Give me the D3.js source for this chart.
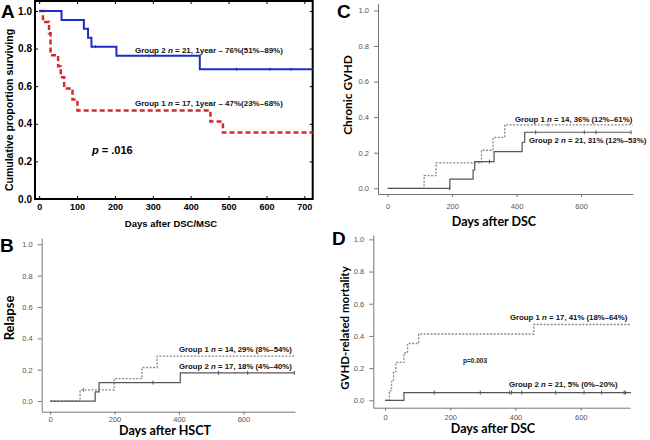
<!DOCTYPE html>
<html><head><meta charset="utf-8">
<script src="https://cdn.jsdelivr.net/npm/d3@7/dist/d3.min.js"></script>
<style>body{margin:0;background:#fff}svg{display:block}</style>
</head><body>
<script>
// ---------- Panel A : survival ----------
const aG2Days = [0, 59, 118, 129, 138, 204, 424, 722];
const aG2Vals = [1, 0.952, 0.905, 0.857, 0.810, 0.762, 0.690, 0.690];
const aG2Censor = [149, 290, 521, 609, 665];
const aG1Days = [0, 10, 26, 30, 50, 57, 66, 88, 101, 452, 485, 722];
const aG1Vals = [1, 0.941, 0.882, 0.765, 0.706, 0.647, 0.588, 0.529, 0.471, 0.412, 0.353, 0.353];
const aXTicks = [0, 100, 200, 300, 400, 500, 600, 700];
const aYTicks = [0, 0.2, 0.4, 0.6, 0.8, 1.0];
// ---------- Panel B : relapse ----------
const bG1Days = [0, 93, 199, 285, 332, 760];
const bG1Vals = [0, 0.071, 0.143, 0.214, 0.286, 0.286];
const bG1Censor = [104];
const bG2Days = [0, 140, 152, 404, 758];
const bG2Vals = [0, 0.059, 0.118, 0.18, 0.18];
const bG2Censor = [319, 523, 613, 758];
// ---------- Panel C : chronic GVHD ----------
const cG1Days = [0, 113, 150, 291, 327, 363, 760];
const cG1Vals = [0, 0.071, 0.143, 0.214, 0.286, 0.357, 0.357];
const cG1Censor = [497];
const cG2Days = [0, 193, 265, 270, 330, 417, 425, 755];
const cG2Vals = [0, 0.052, 0.103, 0.15, 0.206, 0.259, 0.315, 0.315];
const cG2Censor = [192, 316, 459, 610, 646, 755];
// ---------- Panel D : GVHD-related mortality ----------
const dG1Days = [0, 13, 20, 26, 33, 58, 69, 103, 456, 754];
const dG1Vals = [0, 0.059, 0.118, 0.176, 0.235, 0.294, 0.353, 0.412, 0.471, 0.471];
const dG2Days = [0, 58, 754];
const dG2Vals = [0, 0.048, 0.048];
const dG2Censor = [151, 292, 382, 388, 419, 523, 610, 664, 733, 737];
const rXTicks = [0, 200, 400, 600];
const rYTicks = [0, 0.2, 0.4, 0.6, 0.8, 1.0];

const svg = d3.select("body").append("svg").attr("width", 650).attr("height", 440);
const ARIAL = "'Liberation Sans', Arial, sans-serif";
const CAL = "Lato, 'Open Sans', sans-serif";

function valueAt(days, vals, t) {
  const i = Math.max(0, d3.bisectRight(days, t) - 1);
  return vals[i];
}
function step(g, x, y, days, vals, color, width, dash) {
  const line = d3.line().x(d => x(d[0])).y(d => y(d[1])).curve(d3.curveStepAfter);
  g.append("path").datum(days.map((d, i) => [d, vals[i]]))
    .attr("d", line).attr("fill", "none").attr("stroke", color)
    .attr("stroke-width", width).attr("stroke-dasharray", dash || null);
}
function censor(g, x, y, days, vals, list, color, len) {
  g.selectAll(null).data(list).enter().append("line")
    .attr("x1", d => x(d)).attr("x2", d => x(d))
    .attr("y1", d => y(valueAt(days, vals, d)) - len)
    .attr("y2", d => y(valueAt(days, vals, d)) + len)
    .attr("stroke", color).attr("stroke-width", 1);
}
function label(txt, x, y, size, family, weight, opts) {
  const t = svg.append("text").attr("x", x).attr("y", y)
    .attr("font-family", family).attr("font-size", size).attr("font-weight", weight || "normal")
    .attr("fill", (opts && opts.fill) || "#000")
    .attr("text-anchor", (opts && opts.anchor) || "start");
  if (opts && opts.rotate) t.attr("transform", `rotate(-90,${x},${y})`);
  return t.text(txt);
}
function groupLabel(x, y, pre, post, size) {
  const t = svg.append("text").attr("x", x).attr("y", y)
    .attr("font-family", ARIAL).attr("font-size", size).attr("font-weight", "bold").attr("fill", "#111");
  t.append("tspan").text(pre);
  t.append("tspan").attr("font-style", "italic").text("n");
  t.append("tspan").text(post);
}

// ================= Panel A =================
(function () {
  const x = d3.scaleLinear().domain([-11, 722]).range([35, 312.7]);
  const y = d3.scaleLinear().domain([0, 1.053]).range([199, 1]);
  const g = svg.append("g");
  const fmt = d3.format(".1f");
  g.append("g").attr("transform", "translate(0,199)")
    .call(d3.axisBottom(x).tickValues(aXTicks).tickSizeInner(-3).tickSizeOuter(0).tickPadding(5))
    .call(a => { a.select(".domain").remove(); a.selectAll("text").attr("font-size", 9).attr("font-weight", "bold").attr("font-family", ARIAL).attr("fill", "#000"); });
  g.append("g").attr("transform", "translate(0,1)")
    .call(d3.axisTop(x).tickValues(aXTicks).tickSizeInner(-3).tickSizeOuter(0).tickFormat(""))
    .call(a => a.select(".domain").remove());
  g.append("g").attr("transform", "translate(35,0)")
    .call(d3.axisLeft(y).tickValues(aYTicks).tickFormat(fmt).tickSizeInner(-3).tickSizeOuter(0).tickPadding(3))
    .call(a => { a.select(".domain").remove(); a.selectAll("text").attr("font-size", 10).attr("font-weight", "bold").attr("font-family", ARIAL).attr("fill", "#000"); });
  g.append("g").attr("transform", "translate(312.7,0)")
    .call(d3.axisRight(y).tickValues(aYTicks).tickSizeInner(-3).tickSizeOuter(0).tickFormat(""))
    .call(a => a.select(".domain").remove());
  g.append("rect").attr("x", 35).attr("y", 1).attr("width", 277.7).attr("height", 198)
    .attr("fill", "none").attr("stroke", "#000").attr("stroke-width", 2);
  step(g, x, y, aG1Days, aG1Vals, "#d42a2a", 2.5, "5,3");
  step(g, x, y, aG2Days, aG2Vals, "#1c2fc4", 2);
  censor(g, x, y, aG2Days, aG2Vals, aG2Censor, "#1c2fc4", 1.5);
  groupLabel(135, 53, "Group 2 ", " = 21, 1year \u2013 76%(51%\u201389%)", 8);
  groupLabel(135, 106, "Group 1 ", " = 17, 1year \u2013 47%(23%\u201368%)", 8);
  const p = svg.append("text").attr("x", 92).attr("y", 154).attr("font-family", ARIAL)
    .attr("font-size", 11).attr("font-weight", "bold");
  p.append("tspan").attr("font-style", "italic").text("p");
  p.append("tspan").text(" = .016");
  label("Cumulative proportion surviving", 13, 110, 10.5, ARIAL, "bold", { anchor: "middle", rotate: true });
  label("Days after DSC/MSC", 171, 227, 9.5, ARIAL, "bold", { anchor: "middle" });
  label("A", 1, 17.5, 19, ARIAL, "bold");
})();

// ============ R-style panels ============
function rPanel(cfg) {
  const x = d3.scaleLinear().domain(cfg.xd).range(cfg.xr);
  const y = d3.scaleLinear().domain(cfg.yd).range(cfg.yr);
  const g = svg.append("g");
  const style = a => {
    a.select(".domain").attr("stroke", "#777");
    a.selectAll(".tick line").attr("stroke", "#777");
    a.selectAll("text").attr("font-size", 7.5).attr("font-family", ARIAL).attr("fill", "#555");
  };
  g.append("g").attr("transform", `translate(0,${cfg.yr[0]})`)
    .call(d3.axisBottom(x).tickValues(rXTicks).tickFormat(d3.format("d")).tickSizeInner(3).tickSizeOuter(0).tickPadding(cfg.xPad)).call(style);
  g.append("g").attr("transform", `translate(${cfg.xr[0]},0)`)
    .call(d3.axisLeft(y).tickValues(rYTicks).tickFormat(d3.format(".1f")).tickSizeInner(4).tickSizeOuter(0).tickPadding(5)).call(style);
  cfg.draw(g, x, y);
}
const DASHC = "#8a8a8a", SOLIDC = "#555";

// Panel B
rPanel({ xd: [-26, 760], xr: [41.7, 295], yd: [-0.068, 1.04], yr: [411.7, 238], xPad: 2,
  draw: (g, x, y) => {
    step(g, x, y, bG1Days, bG1Vals, DASHC, 1.3, "2,1.5");
    step(g, x, y, bG2Days, bG2Vals, SOLIDC, 1.2);
    censor(g, x, y, bG1Days, bG1Vals, bG1Censor, DASHC, 2);
    censor(g, x, y, bG2Days, bG2Vals, bG2Censor, SOLIDC, 2);
  } });
groupLabel(179, 352, "Group 1 ", " = 14, 29% (8%\u201354%)", 7.8);
groupLabel(179, 369, "Group 2 ", " = 17, 18% (4%\u201340%)", 7.8);
label("Relapse", 14, 318, 13, CAL, "bold", { anchor: "middle", rotate: true });
label("Days after HSCT", 165, 435, 12.5, CAL, "bold", { anchor: "middle" });
label("B", 0, 252, 19, ARIAL, "bold");

// Panel C
rPanel({ xd: [-30, 761], xr: [378, 633], yd: [-0.032, 1.04], yr: [194, 3.3], xPad: 7,
  draw: (g, x, y) => {
    step(g, x, y, cG1Days, cG1Vals, DASHC, 1.3, "2,1.5");
    step(g, x, y, cG2Days, cG2Vals, SOLIDC, 1.2);
    censor(g, x, y, cG1Days, cG1Vals, cG1Censor, DASHC, 2);
    censor(g, x, y, cG2Days, cG2Vals, cG2Censor, SOLIDC, 2);
  } });
groupLabel(515, 122, "Group 1 ", " = 14, 36% (12%\u201361%)", 7.8);
groupLabel(529, 143, "Group 2 ", " = 21, 31% (12%\u201353%)", 7.8);
label("Chronic GVHD", 352, 95, 12, CAL, "bold", { anchor: "middle", rotate: true });
label("Days after DSC", 494, 226, 12.5, CAL, "bold", { anchor: "middle" });
label("C", 337, 17.5, 19, ARIAL, "bold");

// Panel D
rPanel({ xd: [-36, 751], xr: [373.3, 630], yd: [-0.046, 1.027], yr: [407.7, 235], xPad: 4,
  draw: (g, x, y) => {
    step(g, x, y, dG1Days, dG1Vals, DASHC, 1.3, "2,1.5");
    step(g, x, y, dG2Days, dG2Vals, SOLIDC, 1.2);
    censor(g, x, y, dG2Days, dG2Vals, dG2Censor, SOLIDC, 2);
  } });
groupLabel(510, 320, "Group 1 ", " = 17, 41% (18%\u201364%)", 7.8);
groupLabel(509, 387, "Group 2 ", " = 21, 5% (0%\u201320%)", 7.8);
label("p=0.003", 463, 363, 6.5, ARIAL, "bold", { fill: "#222" });
label("GVHD-related mortality", 349, 328, 11.5, CAL, "bold", { anchor: "middle", rotate: true });
label("Days after DSC", 493, 433, 12.5, CAL, "bold", { anchor: "middle" });
label("D", 332, 245, 19, ARIAL, "bold");
</script>
</body></html>
